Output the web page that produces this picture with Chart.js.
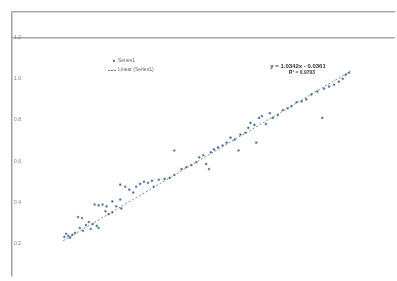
<!DOCTYPE html>
<html>
<head>
<meta charset="utf-8">
<script src="https://cdn.jsdelivr.net/npm/chart.js@4/dist/chart.umd.min.js"></script>
<style>
html,body{margin:0;padding:0;background:#fff;}
#wrap{width:397px;height:281px;position:relative;}
</style>
</head>
<body>
<div id="wrap"><canvas id="c" width="397" height="281"></canvas></div>
<script>
// Observed values (x = predicted, y = measured)
const xValues = [0.245,0.250,0.256,0.261,0.267,0.275,0.283,0.294,0.288,0.297,0.305,0.313,0.318,0.324,0.335,0.340,
  0.329,0.340,0.351,0.362,0.359,0.368,0.378,0.378,0.389,0.403,0.400,0.400,0.414,0.425,0.436,0.444,0.455,0.466,
  0.477,0.488,0.493,0.507,0.523,0.537,0.550,0.550,0.570,0.583,0.597,0.611,0.619,0.630,0.638,0.646,0.651,0.660,
  0.671,0.684,0.695,0.706,0.717,0.728,0.733,0.747,0.755,0.761,0.772,0.777,0.785,0.793,0.804,0.815,0.823,0.837,
  0.851,0.864,0.875,0.889,0.903,0.916,0.930,0.946,0.960,0.965,0.979,0.993,1.006,1.017,1.025,1.034];
const yValues = [0.233,0.248,0.238,0.229,0.243,0.252,0.329,0.324,0.276,0.262,0.290,0.305,0.271,0.295,0.286,0.276,
  0.390,0.386,0.390,0.381,0.357,0.343,0.352,0.405,0.381,0.371,0.414,0.486,0.476,0.462,0.448,0.476,0.490,0.500,
  0.495,0.505,0.476,0.510,0.514,0.519,0.533,0.652,0.562,0.571,0.581,0.595,0.619,0.629,0.586,0.562,0.643,0.657,
  0.667,0.676,0.690,0.714,0.705,0.652,0.729,0.738,0.762,0.786,0.776,0.690,0.810,0.819,0.781,0.833,0.810,0.824,
  0.848,0.857,0.867,0.886,0.890,0.900,0.924,0.938,0.810,0.952,0.962,0.971,0.986,1.000,1.019,1.029];
// Linear trendline end points
const trendX = [0.242, 1.039];
const trendY = [0.214, 1.038];
// Y-axis tick labels
const yTicks = [0.2, 0.4, 0.6, 0.8, 1.0, 1.2];
const seriesName = "Series1";
const trendName = "Linear (Series1)";
const equationText = "y = 1.0342x - 0.0361";
const r2Text = "R\u00B2 = 0.9703";

const Y_MIN = 0.043, Y_MAX = 1.324, X_MIN = 0.1, X_MAX = 1.162;

const scatterData = xValues.map((x, i) => ({x: x, y: yValues[i]}));
const trendData = trendX.map((x, i) => ({x: x, y: trendY[i]}));

const annot = {
  id: 'annot',
  afterDatasetsDraw(chart) {
    const ctx = chart.ctx;
    ctx.save();
    ctx.font = '5px "Liberation Sans", Arial, sans-serif';
    ctx.textBaseline = 'middle';
    ctx.beginPath();
    ctx.arc(114, 61, 1.1, 0, Math.PI * 2);
    ctx.fillStyle = '#3a5a86';
    ctx.fill();
    ctx.fillStyle = '#666';
    ctx.fillText(seriesName, 118, 61);
    ctx.strokeStyle = '#777';
    ctx.lineWidth = 1;
    ctx.setLineDash([2, 1]);
    ctx.beginPath();
    ctx.moveTo(108, 70.5); ctx.lineTo(116, 70.5);
    ctx.stroke();
    ctx.setLineDash([]);
    ctx.fillText(trendName, 118, 70);
    ctx.font = 'bold 6px "Liberation Sans", Arial, sans-serif';
    ctx.fillStyle = '#333';
    ctx.textAlign = 'center';
    ctx.fillText(equationText, 298, 66);
    ctx.font = 'bold 5px "Liberation Sans", Arial, sans-serif';
    ctx.fillText(r2Text, 302, 73);
    ctx.restore();
  }
};

new Chart(document.getElementById('c'), {
  type: 'scatter',
  data: {
    datasets: [
      {
        label: seriesName,
        data: scatterData,
        pointRadius: 1.1,
        pointHoverRadius: 1.1,
        pointBackgroundColor: '#3a5a86',
        pointBorderColor: 'rgba(140,175,215,0.5)',
        pointBorderWidth: 0.8
      },
      {
        type: 'line',
        label: trendName,
        data: trendData,
        borderColor: '#888',
        borderWidth: 1,
        borderDash: [2, 2],
        pointRadius: 0,
        fill: false
      }
    ]
  },
  options: {
    responsive: false,
    animation: false,
    events: [],
    layout: {padding: {left: 8, top: 12, right: 0, bottom: 0}},
    plugins: {legend: {display: false}, tooltip: {enabled: false}},
    scales: {
      x: {type: 'linear', display: false, min: X_MIN, max: X_MAX},
      y: {
        type: 'linear',
        min: Y_MIN,
        max: Y_MAX,
        afterBuildTicks(scale) {
          scale.ticks = yTicks.map(v => ({value: v})).concat([{value: Y_MAX}]);
        },
        border: {display: true, color: '#a0a0a0', width: 1.5},
        grid: {
          drawTicks: false,
          lineWidth: 1.5,
          color: (c) => (c.tick && (c.tick.value === 1.2 || c.tick.value === Y_MAX)) ? '#a8a8a8' : 'rgba(0,0,0,0)'
        },
        ticks: {
          mirror: true,
          padding: 2,
          color: '#777',
          font: {size: 5, family: '"Liberation Sans", Arial, sans-serif'},
          callback: (v) => (v === Y_MAX ? '' : Number(v).toFixed(1))
        }
      }
    }
  },
  plugins: [annot]
});
</script>
</body>
</html>
